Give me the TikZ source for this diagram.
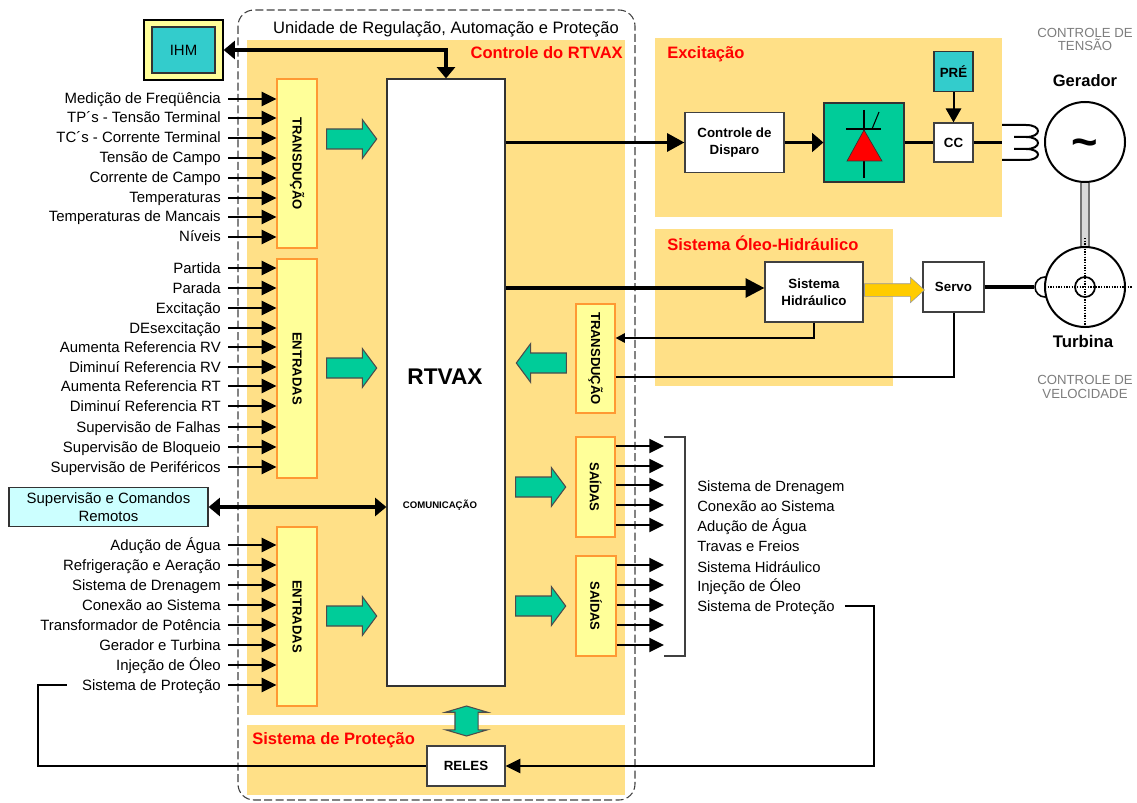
\documentclass[tikz,border=0pt]{standalone}
\usepackage{fontspec}
\setmainfont{Liberation Sans}
\usetikzlibrary{shapes.arrows, arrows.meta, positioning, calc}
\definecolor{panel-yellow}{RGB}{255,224,135}
\definecolor{box-yellow}{RGB}{255,255,153}
\definecolor{box-orange}{RGB}{255,153,51}
\definecolor{ihm-cyan}{RGB}{51,204,204}
\definecolor{rem-cyan}{RGB}{204,255,255}
\definecolor{arrow-green}{RGB}{0,204,153}
\definecolor{gate-yellow}{RGB}{255,204,0}
\definecolor{title-red}{RGB}{255,0,0}
\definecolor{note-gray}{RGB}{125,125,125}
\tikzset{
  size/.style 2 args={minimum width=#1*0.75pt, minimum height=#2*0.75pt, inner sep=0pt},
  whitebox/.style={draw=black!75, fill=white, line width=0.9pt, align=center, font=\fontsize{10pt}{12.5pt}\selectfont\bfseries},
  inbox/.style={draw=box-orange, fill=box-yellow, line width=0.9pt},
  vtext/.style={rotate=-90, font=\fontsize{9.8pt}{11pt}\selectfont\bfseries},
  sigin/.style={font=\fontsize{11.2pt}{12pt}\selectfont, anchor=east, inner xsep=5.25pt, inner ysep=0pt, text height=9.5pt, text depth=2pt},
  sigout/.style={font=\fontsize{11.1pt}{12pt}\selectfont, anchor=west, inner sep=0pt, text height=9.5pt, text depth=2pt},
  titlered/.style={font=\fontsize{12.4pt}{14pt}\selectfont\bfseries, text=title-red, inner sep=0pt},
  notegray/.style={font=\fontsize{9.9pt}{10.4pt}\selectfont, text=note-gray, align=center},
  sig/.style={line width=1.5pt, -{Triangle[length=11pt, width=10.5pt]}},
  bigsig/.style={line width=2.4pt, -{Triangle[length=13pt, width=13.5pt]}},
  shortsig/.style={line width=2.4pt, -{Triangle[length=8.5pt, width=14pt]}},
  bothsig/.style={line width=2.8pt, {Triangle[length=8.5pt, width=13.5pt]}-{Triangle[length=8.5pt, width=13.5pt]}},
  line/.style={line width=1.5pt},
  blockright/.style={draw=black!70, fill=arrow-green, line width=0.8pt, single arrow, inner xsep=0pt, inner ysep=7.1pt,
    minimum height=37.5pt, minimum width=28.5pt, single arrow head extend=7.1pt, single arrow tip angle=107},
}
\begin{document}
\begin{tikzpicture}[x=0.75pt, y=-0.75pt]
  \useasboundingbox (0,0) rectangle (1137,802);

  % Yellow panels
  \fill[panel-yellow] (247,40) rectangle (625,715);
  \fill[panel-yellow] (247,725) rectangle (625,795);
  \fill[panel-yellow] (655,38) rectangle (1002,217);
  \fill[panel-yellow] (655,229) rectangle (893,386);
  \draw[dashed, black!75, line width=0.8pt, dash pattern=on 6pt off 2.5pt, rounded corners=12pt] (238,10) rectangle (635,800);

  % Panel titles
  \node[font=\fontsize{12.4pt}{14pt}\selectfont, inner sep=0pt] (tUnit) at (446,29) {Unidade de Regulação, Automação e Proteção};
  \node[titlered, anchor=east] (tCtrl) at (623,53) {Controle do RTVAX};
  \node[titlered, anchor=west] (tExc) at (667,54) {Excitação};
  \node[titlered, anchor=west] (tOleo) at (667,243) {Sistema Óleo-Hidráulico};
  \node[titlered, anchor=west] (tProt) at (252,740) {Sistema de Proteção};

  % Main blocks
  \node[draw=black!80, fill=white, line width=0.9pt, size={118}{607}] (rtvax) at (446,382.5) {};
  \node[font=\fontsize{17pt}{20pt}\selectfont\bfseries] (rtvaxT) at (445,377) {RTVAX};
  \node[font=\fontsize{7.2pt}{8pt}\selectfont\bfseries] (rtvaxC) at (440,505) {COMUNICAÇÃO};
  \node[draw=black, fill=box-yellow, line width=0.9pt, size={79}{60}] (ihmOut) at (183.5,50) {};
  \node[draw=black!80, fill=ihm-cyan, line width=0.9pt, size={63}{46}, font=\fontsize{11.2pt}{13pt}\selectfont] (ihm) at (183.5,50) {IHM};
  \node[draw=black!80, fill=rem-cyan, line width=0.9pt, size={199}{39}, align=center, font=\fontsize{11.2pt}{13.5pt}\selectfont] (remote) at (108.5,507) {Supervisão e Comandos\\Remotos};

  % Input and output bars
  \node[inbox, size={40}{169}] (transA) at (297,163.5) {};
  \node[inbox, size={40}{219}] (entA) at (297,368.5) {};
  \node[inbox, size={40}{179}] (entB) at (297,616.5) {};
  \node[inbox, size={39}{109}] (transB) at (595.5,358.5) {};
  \node[inbox, size={39}{100}] (saiA) at (595.5,487) {};
  \node[inbox, size={40}{100}] (saiB) at (596,606) {};
  \node[vtext] (transAT) at (transA) {TRANSDUÇÃO};
  \node[vtext] (entAT) at (entA) {ENTRADAS};
  \node[vtext] (entBT) at (entB) {ENTRADAS};
  \node[vtext] (transBT) at (transB) {TRANSDUÇÃO};
  \node[vtext] (saiAT) at (saiA) {SAÍDAS};
  \node[vtext] (saiBT) at (saiB) {SAÍDAS};

  % Green arrows
  \node[blockright] (flowA) at (348,139) {};
  \node[blockright] (flowB) at (348,368) {};
  \node[blockright] (flowC) at (348,616) {};
  \node[blockright, shape border rotate=180] (flowD) at (545,363) {};
  \node[blockright] (flowE) at (537,487) {};
  \node[blockright] (flowF) at (537,606) {};
  \node[draw=black!70, fill=arrow-green, line width=0.8pt, double arrow, shape border rotate=90, inner sep=8.25pt,
    minimum height=22.5pt, minimum width=30.75pt, double arrow head extend=7.1pt, double arrow tip angle=147] (flowG) at (466.5,721) {};

  % Left signals
  \foreach \y/\txt [count=\i] in {99/Medição de Freqüência, 118/TP´s - Tensão Terminal, 138/TC´s - Corrente Terminal,
      158/Tensão de Campo, 178/Corrente de Campo, 198/Temperaturas, 217/Temperaturas de Mancais, 237/Níveis} {
    \node[sigin] (inA\i) at (228,\y) {\txt};
    \draw[sig] (inA\i.east) -- (transA.west |- inA\i.east);
  }
  \foreach \y/\txt [count=\i] in {268/Partida, 288/Parada, 308/Excitação, 328/DEsexcitação, 347/Aumenta Referencia RV,
      367/Diminuí Referencia RV, 386/Aumenta Referencia RT, 406/Diminuí Referencia RT, 427/Supervisão de Falhas,
      447/Supervisão de Bloqueio, 467/Supervisão de Periféricos} {
    \node[sigin] (inB\i) at (228,\y) {\txt};
    \draw[sig] (inB\i.east) -- (entA.west |- inB\i.east);
  }
  \foreach \y/\txt [count=\i] in {545/Adução de Água, 565/Refrigeração e Aeração, 585/Sistema de Drenagem, 605/Conexão ao Sistema,
      625/Transformador de Potência, 645/Gerador e Turbina, 665/Injeção de Óleo, 685/Sistema de Proteção} {
    \node[sigin] (inC\i) at (228,\y) {\txt};
    \draw[sig] (inC\i.east) -- (entB.west |- inC\i.east);
  }

  % Output signals and bracket
  \coordinate (brTop) at (664,437);
  \coordinate (brBot) at (664,656);
  \foreach \y in {446,466,485,505,525} {
    \draw[sig] (saiA.east |- 0,\y) -- (brTop |- 0,\y);
  }
  \foreach \y in {565,585,605,625,645} {
    \draw[sig] (saiB.east |- 0,\y) -- (brTop |- 0,\y);
  }
  \draw[black!75, line width=0.9pt] (brTop) -- ++(21,0) |- (brBot);
  \foreach \y/\txt [count=\i] in {486/Sistema de Drenagem, 506/Conexão ao Sistema, 526/Adução de Água, 546/Travas e Freios,
      567/Sistema Hidráulico, 586/Injeção de Óleo, 606/Sistema de Proteção} {
    \node[sigout] (outA\i) at (697,\y) {\txt};
  }

  % Reles and protection loop
  \node[whitebox, size={78}{40}] (reles) at (466,766) {RELES};
  \coordinate (loopL) at (38,685);
  \coordinate (loopR) at (874,606);
  \draw[line, shorten <=6pt] (inC8.west) -- (loopL) |- (reles.west);
  \draw[sig, shorten <=7.5pt] (outA7.east) -- (loopR) |- (reles.east);

  % Links to the main block
  \draw[bothsig] (ihm.east -| ihmOut.east) -| (rtvax.north);
  \draw[bothsig] (remote.east) -- (rtvax.west |- remote.east);

  % Excitation
  \node[whitebox, size={99}{60}] (disparo) at (734.5,142.5) {Controle de\\Disparo};
  \node[draw=black!80, fill=arrow-green, line width=0.9pt, size={80}{79}] (ponte) at (864,142.5) {};
  \node[whitebox, size={39}{39}] (cc) at (953.5,142.5) {CC};
  \node[draw=black!80, fill=ihm-cyan, line width=0.9pt, size={39}{40}, font=\fontsize{10pt}{12pt}\selectfont\bfseries] (pre) at (953.5,71.5) {PRÉ};
  \draw[bigsig] (rtvax.east |- disparo.west) -- (disparo.west);
  \draw[shortsig] (disparo.east) -- (ponte.west);
  \draw[line width=2.2pt] (ponte.east) -- (cc.west);
  \draw[sig, -{Triangle[length=10.5pt, width=11.5pt]}] (pre.south) -- (cc.north);
  \coordinate (coilIn) at (1002,142.5);
  \draw[line width=2.2pt] (cc.east) -- (coilIn);

  % Thyristor
  \draw[line width=0.9pt] (864,110) -- (864,178);
  \draw[line width=0.9pt] (846,129) -- (881,129);
  \draw[line width=0.8pt] (872,129) -- (879,112);
  \fill[red, draw=black!80, line width=0.5pt] (847,161) -- (882,161) -- (864,130) -- cycle;

  % Coil
  \draw[line width=1.5pt] (1002,125) -- (1026,125) .. controls (1042,125) and (1042,137) .. (1026,137) -- (1014,137)
    (1014,137) -- (1026,137) .. controls (1042,137) and (1042,149) .. (1026,149) -- (1014,149)
    (1014,149) -- (1026,149) .. controls (1042,149) and (1042,160) .. (1026,160) -- (1002,160);

  % Machines
  \node[draw, fill=white, circle, line width=1.5pt, minimum size=60pt, inner sep=0pt] (gerador) at (1085,142) {};
  \node[font=\fontsize{34pt}{34pt}\selectfont\bfseries] (tilde) at (1085,148) {\textasciitilde};
  \node[draw, fill=white, circle, line width=1.2pt, minimum size=15pt, inner sep=0pt] (hub) at (1045,287) {};
  \draw[line width=8pt, black!55] (gerador.south) -- (1085,248);
  \draw[line width=5pt, black!15] (gerador.south) -- (1085,248);
  \node[draw, fill=white, circle, line width=1.5pt, minimum size=60pt, inner sep=0pt] (turbina) at (1085,287) {};
  \node[draw, circle, line width=1.3pt, minimum size=15pt, inner sep=0pt] (eixo) at (1085,287) {};
  \draw[densely dotted, line width=1pt] (1085,238) -- (1085,327);
  \draw[densely dotted, line width=1pt] (1045,287) -- (1132,287);

  \node[font=\fontsize{12.4pt}{14pt}\selectfont\bfseries] (tGer) at (1085,81) {Gerador};
  \node[font=\fontsize{12.6pt}{14pt}\selectfont\bfseries] (tTur) at (1083,341) {Turbina};
  \node[notegray] (tTen) at (1085,39.5) {CONTROLE DE\\TENSÃO};
  \node[notegray] (tVel) at (1085,387) {CONTROLE DE\\VELOCIDADE};

  % Hydraulics
  \node[whitebox, size={98}{60}] (hidr) at (814,292) {Sistema\\Hidráulico};
  \node[whitebox, size={61}{50}] (servo) at (953.5,287) {Servo};
  \draw[bigsig, -{Triangle[length=14pt, width=14pt]}] (rtvax.east |- 0,288) -- (hidr.west |- 0,288);
  \node[draw=black!40, fill=gate-yellow, line width=0.4pt, single arrow, inner xsep=0pt, inner ysep=4.5pt, minimum height=45pt, minimum width=18.8pt,
    single arrow head extend=4.9pt, single arrow tip angle=84] (gateFlow) at (891,290) {};
  \draw[line width=3.2pt] (servo.east) -- (hub.west);
  \draw[line, -{Triangle[length=7pt, width=7pt]}] (hidr.south) |- (transB.east |- 0,338);
  \draw[line] (servo.south) |- (transB.east |- 0,377);
\end{tikzpicture}
\end{document}
